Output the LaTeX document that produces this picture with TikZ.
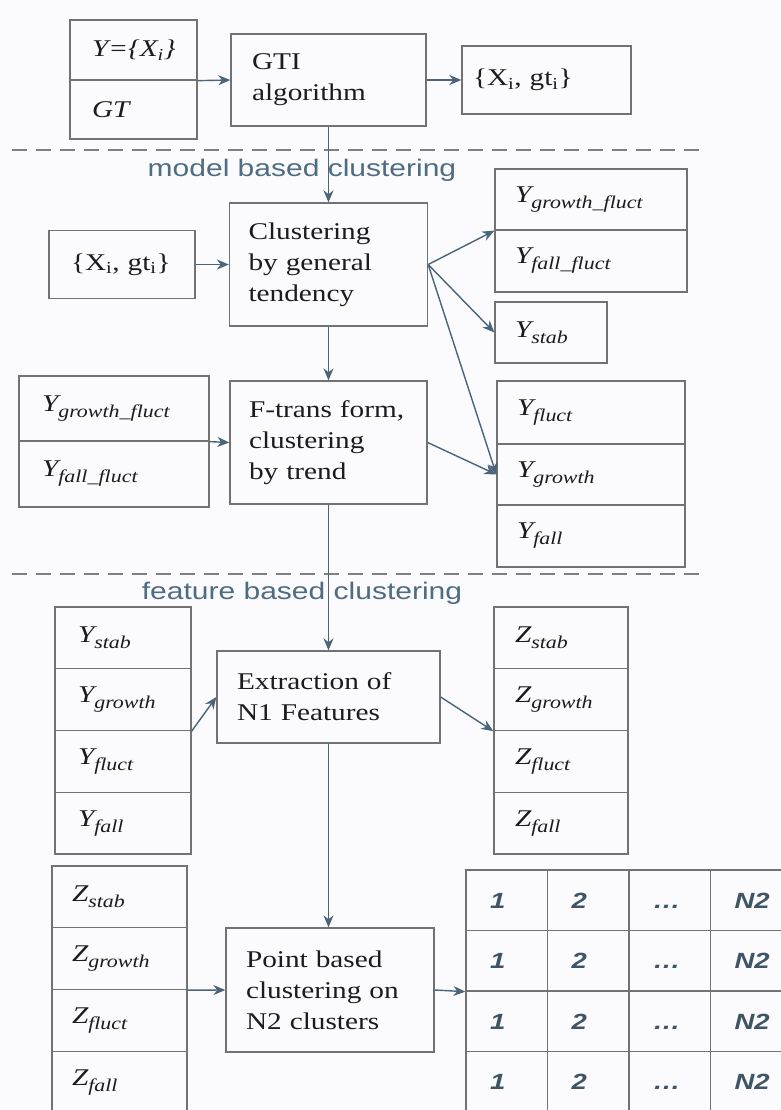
\documentclass[tikz,border=0pt]{standalone}
\usepackage{fontspec}
\setmainfont{Liberation Serif}[FakeStretch=1.22]
\setsansfont{Liberation Sans}[FakeStretch=1.25]
\usetikzlibrary{arrows.meta}
\definecolor{boxgray}{HTML}{727272}
\definecolor{arrowblue}{HTML}{4A6579}
\definecolor{labelblue}{HTML}{4E6C82}
\definecolor{tabblue}{HTML}{3E5566}
\definecolor{inkblack}{HTML}{1C1C1C}
\definecolor{paper}{HTML}{FBFAFC}
\newcommand{\ysub}[2]{\textit{#1\raisebox{-6pt}{\fontsize{18}{18}\selectfont #2}}}
\begin{document}
\begin{tikzpicture}[x=1pt,y=-1pt]
  \tikzstyle{cell_style} = [draw=boxgray, line width=1.3pt, inner ysep=0pt, align=left, text=inkblack, font=\fontsize{24}{31}\selectfont]
  \tikzstyle{tab_style} = [draw=boxgray, line width=1.3pt, minimum width=81.5pt, minimum height=60.5pt, text width=33.5pt, text height=16pt, text depth=0pt, inner xsep=24pt, inner ysep=0pt, align=left, text=tabblue, font=\sffamily\bfseries\itshape\fontsize{22}{22}\selectfont]
  \tikzstyle{label_style} = [text=labelblue, font=\sffamily\fontsize{24}{24}\selectfont]
  \tikzstyle{dash_style} = [draw=gray, line width=1.3pt, dash pattern=on 15pt off 9pt]
  \tikzstyle{arrow_style} = [draw=arrowblue, line width=1.4pt, -{Stealth[length=12pt,width=10pt]}]
  \useasboundingbox (0,0) rectangle (781,1110);
  \fill[paper] (0,0) rectangle (781,1110);
  \clip (0,0) rectangle (781,1110);

  \node[cell_style, minimum width=127pt, minimum height=60pt, text width=83pt, inner xsep=22pt] (y_xi) at (133.5,50) {\textit{Y=\{X\textsubscript{i}\}}};
  \node[cell_style, minimum width=127pt, minimum height=59pt, text width=83pt, inner xsep=22pt] (gt_in) at (133.5,109.5) {\textit{GT}};
  \node[cell_style, minimum width=195pt, minimum height=92pt, text width=153pt, inner xsep=21pt] (gti) at (328.5,80) {GTI\\algorithm};
  \node[cell_style, minimum width=169pt, minimum height=68pt, text width=147pt, inner xsep=11pt] (xgt_a) at (546.5,80) {\{X\textsubscript{i}, gt\textsubscript{i}\}};

  \draw[dash_style] (12,150) -- (700,150);
  \node[label_style] (lbl_model) at (302,170) {model based clustering};

  \node[cell_style, minimum width=198pt, minimum height=123pt, text width=160pt, inner xsep=19pt] (clust) at (328.5,264.5) {Clustering\\by general\\tendency};
  \node[cell_style, minimum width=146pt, minimum height=68pt, text width=102pt, inner xsep=22pt] (xgt_b) at (122,264.5) {\{X\textsubscript{i}, gt\textsubscript{i}\}};
  \node[cell_style, minimum width=192pt, minimum height=61pt, text width=152pt, inner xsep=20pt] (yfg_r) at (591,199.5) {\ysub{Y}{growth\_fluct}};
  \node[cell_style, minimum width=192pt, minimum height=62pt, text width=152pt, inner xsep=20pt] (yff_r) at (591,261) {\ysub{Y}{fall\_fluct}};
  \node[cell_style, minimum width=112pt, minimum height=61pt, text width=72pt, inner xsep=20pt] (ystab_r) at (551,332.5) {\ysub{Y}{stab}};

  \node[cell_style, minimum width=190pt, minimum height=65pt, text width=144pt, inner xsep=23pt] (yfg_l) at (114,408.5) {\ysub{Y}{growth\_fluct}};
  \node[cell_style, minimum width=190pt, minimum height=66pt, text width=144pt, inner xsep=23pt] (yff_l) at (114,474) {\ysub{Y}{fall\_fluct}};
  \node[cell_style, minimum width=197pt, minimum height=123pt, text width=159pt, inner xsep=19pt] (ftrans) at (328.5,442.5) {F-trans form,\\clustering\\by trend};
  \node[cell_style, minimum width=188pt, minimum height=63pt, text width=148pt, inner xsep=20pt] (yfluct_r) at (591,412.5) {\ysub{Y}{fluct}};
  \node[cell_style, minimum width=188pt, minimum height=61pt, text width=148pt, inner xsep=20pt] (ygrowth_r) at (591,474.5) {\ysub{Y}{growth}};
  \node[cell_style, minimum width=188pt, minimum height=62pt, text width=148pt, inner xsep=20pt] (yfall_r) at (591,536) {\ysub{Y}{fall}};

  \draw[dash_style] (12,574) -- (700,574);
  \node[label_style] (lbl_feature) at (302,593) {feature based clustering};

  \foreach \i/\s in {1/stab, 2/growth, 3/fluct, 4/fall}
    \node[cell_style, minimum width=136pt, minimum height=61.75pt, text width=90pt, inner xsep=23pt] (ys_\i) at (123,{576.125+61.75*\i}) {\ysub{Y}{\s}};
  \node[cell_style, minimum width=223pt, minimum height=92pt, text width=183pt, inner xsep=20pt] (extr) at (328.5,697) {Extraction of\\N1 Features};
  \foreach \i/\s in {1/stab, 2/growth, 3/fluct, 4/fall}
    \node[cell_style, minimum width=134pt, minimum height=61.75pt, text width=92pt, inner xsep=21pt] (zs_\i) at (561,{576.125+61.75*\i}) {\ysub{Z}{\s}};

  \foreach \i/\s in {1/stab, 2/growth, 3/fluct, 4/fall}
    \node[cell_style, minimum width=135pt, minimum height=61.75pt, text width=95pt, inner xsep=20pt] (zl_\i) at (119.5,{835.125+61.75*\i}) {\ysub{Z}{\s}};
  \node[cell_style, minimum width=208pt, minimum height=124pt, text width=168pt, inner xsep=20pt] (point) at (330,990) {Point based\\clustering on\\N2 clusters};
  \foreach \r in {1,...,4}
    \foreach \c/\t in {1/1, 2/2, 3/{\ldots}, 4/N2}
      \node[tab_style] (t_\r_\c) at ({466+81.5*(\c-0.5)},{870+60.5*(\r-0.5)}) {\t};

  \draw[arrow_style] (y_xi.south east) -- (gti.west);
  \draw[arrow_style] (gti.east) -- (xgt_a.west);
  \draw[arrow_style] (gti.south) -- (clust.north);
  \draw[arrow_style] (xgt_b.east) -- (clust.west);
  \draw[arrow_style] (clust.east) -- (yfg_r.south west);
  \draw[arrow_style] (clust.east) -- (ystab_r.west);
  \draw[arrow_style] (clust.east) -- (ygrowth_r.west);
  \draw[arrow_style] (clust.south) -- (ftrans.north);
  \draw[arrow_style] (yfg_l.south east) -- (ftrans.west);
  \draw[arrow_style] (ftrans.east) -- (ygrowth_r.west);
  \draw[arrow_style] (ftrans.south) -- (extr.north);
  \draw[arrow_style] (ys_2.south east) -- (extr.west);
  \draw[arrow_style] (extr.east) -- (zs_2.south west);
  \draw[arrow_style] (extr.south) -- (extr.south |- point.north);
  \draw[arrow_style] (zl_2.south east) -- (point.west);
  \draw[arrow_style] (point.east) -- (t_2_1.south west);
\end{tikzpicture}
\end{document}
